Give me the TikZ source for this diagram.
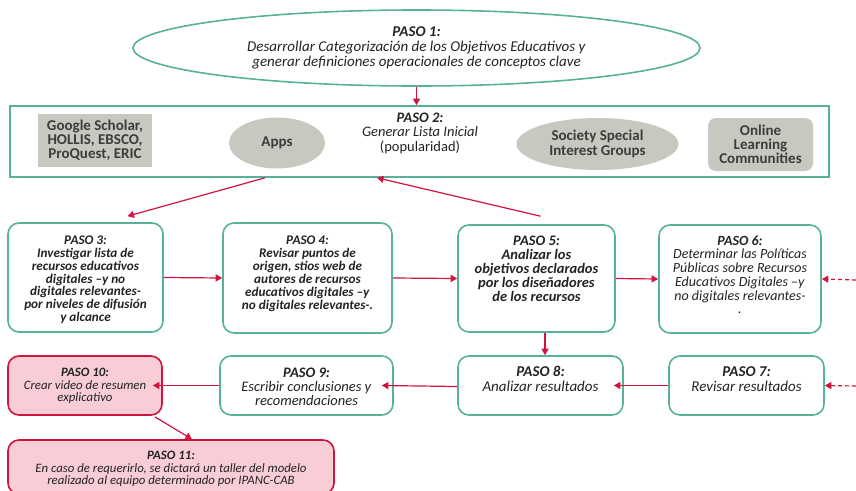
\documentclass[tikz,border=0pt]{standalone}
\usepackage{fontspec}
\setmainfont{Carlito}
\usetikzlibrary{arrows.meta,shapes.geometric}
\definecolor{tealb}{RGB}{88,178,152}
\definecolor{crim}{RGB}{208,20,62}
\definecolor{pinkf}{RGB}{248,205,213}
\definecolor{grayf}{RGB}{200,200,192}
\definecolor{darkg}{RGB}{60,60,60}
\definecolor{txt}{RGB}{35,35,35}
\begin{document}
\begin{tikzpicture}[x=1pt,y=-1pt,
  stepbox/.style={draw=tealb, line width=1.6pt, rounded corners=11pt, fill=white, inner sep=0pt},
  pinkbox/.style={stepbox, draw=crim, fill=pinkf},
  steptext/.style={anchor=north, align=center, text=txt, inner sep=0pt, font=\fontsize{13.2}{12.8}\selectfont},
  graytext/.style={align=center, text=darkg, font=\bfseries\fontsize{15}{14.2}\selectfont},
  arr/.style={draw=crim, line width=1.2pt, -{Triangle[width=7pt,length=6.5pt]}},
  darr/.style={arr, dashed, dash pattern=on 4pt off 3pt}]
\useasboundingbox (0,0) rectangle (856,490);

% PASO 1
\node[draw=tealb, line width=1.6pt, ellipse, minimum width=567pt, minimum height=76pt, inner sep=0pt] (p1) at (416.5,48) {};
\node[align=center, text=txt, font=\fontsize{15}{15}\selectfont] (p1t) at (416.5,48)
  {\textbf{\textit{PASO 1:}}\\ \textit{Desarrollar Categorización de los Objetivos Educativos y}\\ \textit{generar definiciones operacionales de conceptos clave}};

% PASO 2
\node[draw=tealb, line width=1.6pt, minimum width=819pt, minimum height=71pt, inner sep=0pt] (p2) at (419.5,141.5) {};
\node[align=center, text=txt, font=\fontsize{14.5}{14.5}\selectfont] (p2t) at (420,133)
  {\textbf{\textit{PASO 2:}}\\ \textit{Generar Lista Inicial}\\ (popularidad)};
\node[fill=grayf, minimum width=114pt, minimum height=53pt, inner sep=0pt, graytext] (gs) at (95,140.5)
  {Google Scholar,\\ HOLLIS, EBSCO,\\ ProQuest, ERIC};
\node[fill=grayf, ellipse, minimum width=96pt, minimum height=51pt, inner sep=0pt, graytext] (apps) at (277,143) {Apps};
\node[fill=grayf, ellipse, minimum width=162pt, minimum height=52pt, inner sep=0pt, graytext] (soc) at (597.5,144) {Society Special\\ Interest Groups};
\node[fill=grayf, rounded corners=8pt, minimum width=105pt, minimum height=53pt, inner sep=0pt, graytext] (olc) at (760.5,144.5) {Online\\ Learning\\ Communities};

% Row 3
\node[stepbox, minimum width=155pt, minimum height=109pt] (p3) at (85.5,277.5) {};
\node[steptext] (p3t) at (85.5,235.8) {\textbf{\textit{PASO 3:}}\\ \textbf{\textit{Investigar lista de}}\\ \textbf{\textit{recursos educativos}}\\ \textbf{\textit{digitales –y no}}\\ \textbf{\textit{digitales relevantes-}}\\ \textbf{\textit{por niveles de difusión}}\\ \textbf{\textit{y alcance}}};
\node[stepbox, minimum width=169pt, minimum height=110pt] (p4) at (307.5,278) {};
\node[steptext, font=\fontsize{13.2}{13}\selectfont] (p4t) at (307.5,235.8) {\textbf{\textit{PASO 4:}}\\ \textbf{\textit{Revisar puntos de}}\\ \textbf{\textit{origen, stios web de}}\\ \textbf{\textit{autores de recursos}}\\ \textbf{\textit{educativos digitales –y}}\\ \textbf{\textit{no digitales relevantes-.}}};
\node[stepbox, minimum width=157pt, minimum height=107pt] (p5) at (536.5,278.5) {};
\node[steptext, font=\fontsize{14.5}{14}\selectfont] (p5t) at (536.5,235.4) {\textbf{\textit{PASO 5:}}\\ \textbf{\textit{Analizar los}}\\ \textbf{\textit{objetivos declarados}}\\ \textbf{\textit{por los diseñadores}}\\ \textbf{\textit{de los recursos}}};
\node[stepbox, minimum width=162pt, minimum height=108pt] (p6) at (740,279) {};
\node[steptext, font=\fontsize{14}{13.7}\selectfont] (p6t) at (740,235.5) {\textbf{\textit{PASO 6:}}\\ \textit{Determinar las Políticas}\\ \textit{Públicas sobre Recursos}\\ \textit{Educativos Digitales –y}\\ \textit{no digitales relevantes-}\\ \textit{.}};

% Row 4
\node[pinkbox, minimum width=154pt, minimum height=59pt] (p10) at (85,385.5) {};
\node[steptext, font=\fontsize{12.8}{12.6}\selectfont] (p10t) at (85,367.9) {\textbf{\textit{PASO 10:}}\\ \textit{Crear video de resumen}\\ \textit{explicativo}};
\node[stepbox, minimum width=173pt, minimum height=59pt] (p9) at (306.5,385.5) {};
\node[steptext, font=\fontsize{14.5}{14}\selectfont] (p9t) at (306.5,367.4) {\textbf{\textit{PASO 9:}}\\ \textit{Escribir conclusiones y}\\ \textit{recomendaciones}};
\node[stepbox, minimum width=165pt, minimum height=59pt] (p8) at (540.5,385.5) {};
\node[steptext, font=\fontsize{15}{15}\selectfont] (p8t) at (540.5,366.2) {\textbf{\textit{PASO 8:}}\\ \textit{Analizar resultados}};
\node[stepbox, minimum width=155pt, minimum height=59pt] (p7) at (746.5,385.5) {};
\node[steptext, font=\fontsize{15}{15}\selectfont] (p7t) at (746.5,366.2) {\textbf{\textit{PASO 7:}}\\ \textit{Revisar resultados}};
\node[pinkbox, minimum width=326pt, minimum height=54pt] (p11) at (171,467) {};
\node[steptext, font=\fontsize{12.8}{12.5}\selectfont] (p11t) at (171,451) {\textbf{\textit{PASO 11:}}\\ \textit{En caso de requerirlo, se dictará un taller del modelo}\\ \textit{realizado al equipo determinado por IPANC-CAB}};

% free ends
\coordinate (e6) at (856,280);
\coordinate (e7) at (856,386);

% Connectors
\draw[arr] (p1.south) -- (p2.north -| p1.south);
\draw[arr] ([xshift=-154.5pt]p2.south) -- ([xshift=42pt,yshift=6pt]p3.north);
\draw[arr] ([xshift=4pt,yshift=8pt]p5.north) -- ([xshift=-42.5pt]p2.south);
\draw[arr] (p3.east) -- (p4.west);
\draw[arr] (p4.east) -- (p5.west);
\draw[arr] (p5.east) -- (p6.west);
\draw[darr] (e6) -- (p6.east);
\draw[arr] ([xshift=8.5pt]p5.south) -- ([xshift=4.5pt]p8.north);
\draw[darr] (e7) -- (p7.east);
\draw[arr] (p7.west) -- ([xshift=-10pt]p8.east);
\draw[arr] ([yshift=-1pt]p8.west) -- ([xshift=-12pt]p9.east);
\draw[arr] (p9.west) -- ([xshift=-10pt]p10.east);
\draw[arr] ([xshift=-8pt,yshift=-1pt]p10.south east) -- ([xshift=21pt]p11.north);
\end{tikzpicture}
\end{document}
